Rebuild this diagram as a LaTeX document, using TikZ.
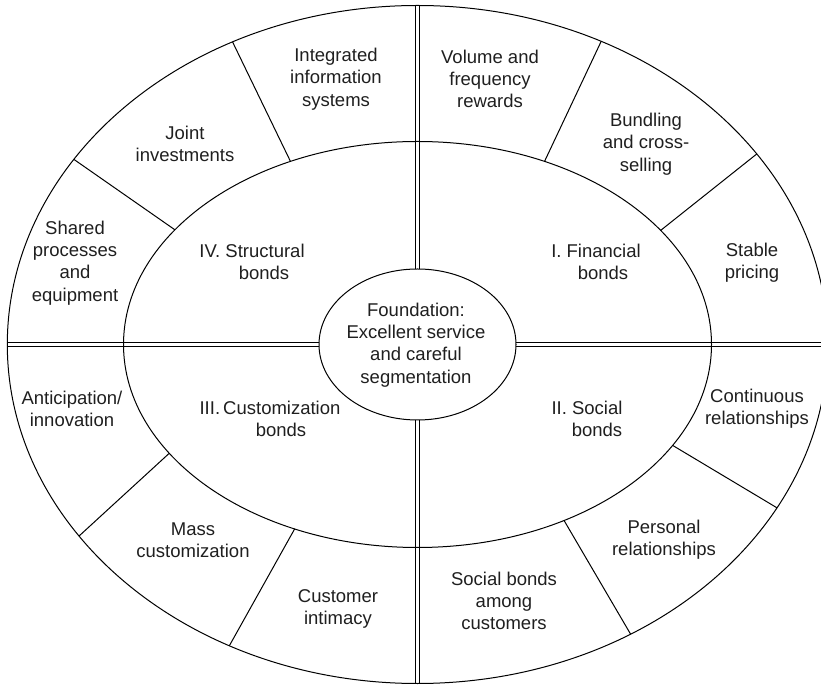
\documentclass[tikz,border=0pt]{standalone}
\usepackage{fontspec}
\setmainfont{Liberation Sans}
\begin{document}
\begin{tikzpicture}[x=1pt,y=1pt,
  ring/.style={line width=1pt, draw=black},
  sep/.style={line width=1pt, draw=black, double=white, double distance=3.2pt},
  lbl/.style={align=center, font=\fontsize{18.5}{22.3}\selectfont, inner sep=0pt, text=black!88}]
\useasboundingbox (0,0) rectangle (821,685);
\clip (0,0) rectangle (821,685);
\coordinate (C) at (417.5,340.5);
% ring extremes
\path (C) ++(0,339) coordinate (oT) ++(0,-339) ++(0,-339) coordinate (oB);
\path (C) ++(-410.2,0) coordinate (oL);
\path (C) ++(410.2,0) coordinate (oR);
\path (C) ++(0,75.5) coordinate (iT);
\path (C) ++(0,-75.5) coordinate (iB);
\path (C) ++(-98.5,0) coordinate (iL);
\path (C) ++(98.5,0) coordinate (iR);
% radial separators (middle / outer ends)
\path (C) ++(115.6:294 and 203) coordinate (mA);
\path (C) ++(116.8:410.2 and 339) coordinate (oA);
\path (C) ++(145.6:294 and 203) coordinate (mB);
\path (C) ++(146.9:410.2 and 339) coordinate (oB2);
\path (C) ++(64.4:294 and 203) coordinate (mC);
\path (C) ++(63.4:410.2 and 339) coordinate (oC);
\path (C) ++(34.2:294 and 203) coordinate (mD);
\path (C) ++(34.2:410.2 and 339) coordinate (oD);
\path (C) ++(212.4:294 and 203) coordinate (mE);
\path (C) ++(214.4:410.2 and 339) coordinate (oE);
\path (C) ++(245.3:294 and 203) coordinate (mF);
\path (C) ++(242.7:410.2 and 339) coordinate (oF);
\path (C) ++(330.2:294 and 203) coordinate (mG);
\path (C) ++(331.2:410.2 and 339) coordinate (oG);
\path (C) ++(299.9:294 and 203) coordinate (mH);
\path (C) ++(301.3:410.2 and 339) coordinate (oH);
% double separators
\draw[sep] (oT) -- (iT);
\draw[sep] (iB) -- (oB);
\draw[sep] (oL) -- (iL);
\draw[sep] (iR) -- (oR);
% ellipses
\draw[ring] (C) ellipse [x radius=410.2, y radius=339];
\draw[ring] (C) ellipse [x radius=294, y radius=203];
\draw[ring, fill=white] (C) ellipse [x radius=98.5, y radius=75.5];
% radial lines
\draw[ring] (mA) -- (oA);
\draw[ring] (mB) -- (oB2);
\draw[ring] (mC) -- (oC);
\draw[ring] (mD) -- (oD);
\draw[ring] (mE) -- (oE);
\draw[ring] (mF) -- (oF);
\draw[ring] (mG) -- (oG);
\draw[ring] (mH) -- (oH);
% labels
\node[lbl] (found) at (416,340) {Foundation:\\Excellent service\\and careful\\segmentation};
\node[lbl] (integ) at (336,606) {Integrated\\information\\systems};
\node[lbl] (joint) at (185,541) {Joint\\investments};
\node[lbl] (shared) at (75,422) {Shared\\processes\\and\\equipment};
\node[lbl] (struct) at (252,423) {IV. Structural\\\hspace*{24pt}bonds};
\node[lbl] (volume) at (490,606) {Volume and\\frequency\\rewards};
\node[lbl] (bundle) at (646,541) {Bundling\\and cross-\\selling};
\node[lbl] (stable) at (752,422) {Stable\\pricing};
\node[lbl] (financ) at (596,423) {I. Financial\\\hspace*{14pt}bonds};
\node[lbl] (antic) at (72,276) {Anticipation/\\innovation};
\node[lbl] (custom) at (270,266) {III.\,Customization\\\hspace*{22pt}bonds};
\node[lbl] (mass) at (193,145) {Mass\\customization};
\node[lbl] (intim) at (338,76) {Customer\\intimacy};
\node[lbl] (social) at (587,266) {II. Social\\\hspace*{20pt}bonds};
\node[lbl] (contin) at (757,276) {Continuous\\relationships};
\node[lbl] (person) at (664,145) {Personal\\relationships};
\node[lbl] (among) at (504,84) {Social bonds\\among\\customers};
\end{tikzpicture}
\end{document}
